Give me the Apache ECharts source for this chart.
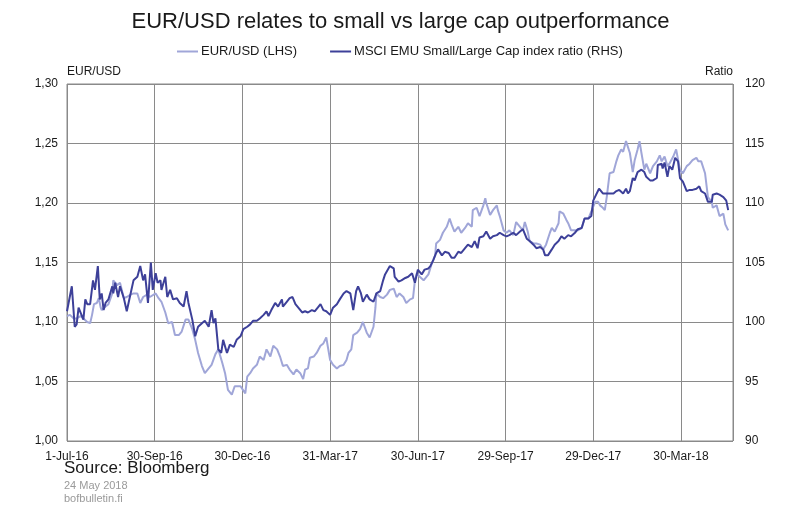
<!DOCTYPE html>
<html>
<head>
<meta charset="utf-8">
<script src="https://cdn.jsdelivr.net/npm/echarts@6/dist/echarts.min.js"></script>
<style>
html,body{margin:0;padding:0;background:#fff;}
#chart{width:801px;height:523px;}
</style>
</head>
<body>
<div id="chart"></div>
<script>
// ---- Data ----
var startDate = '2016-07-01';
var endDate = '2018-05-23';
var tickDates = ['2016-07-01','2016-09-30','2016-12-30','2017-03-31','2017-06-30','2017-09-29','2017-12-29','2018-03-30'];
var tickLabels = ['1-Jul-16','30-Sep-16','30-Dec-16','31-Mar-17','30-Jun-17','29-Sep-17','29-Dec-17','30-Mar-18'];

// EUR/USD (LHS): days since 1-Jul-2016 and values
var eurusdDays = [0,3,7,10,14,17,21,24,26,28,31,33,35,36,40,43,47,48,52,55,59,62,66,69,73,76,79,83,86,92,95,98,102,105,109,112,116,119,123,126,130,133,136,140,143,147,150,154,157,161,164,167,171,174,180,
185,187,190,193,197,200,204,207,211,214,218,221,224,228,231,235,238,242,245,247,250,252,256,259,263,266,269,273,276,280,283,287,290,292,295,297,301,304,307,311,314,318,320,321,325,328,332,335,339,342,345,349,352,356,359,361,363,366,370,375,
378,382,383,387,390,394,397,399,402,406,409,413,416,420,421,425,428,432,434,435,439,442,446,447,449,453,456,459,463,466,470,473,475,478,480,484,487,491,494,497,501,503,506,510,511,515,518,520,523,527,530,534,537,541,544,548,551,
553,556,558,560,563,567,570,572,575,577,580,584,587,589,592,594,596,599,601,605,608,612,615,617,620,623,625,629,632,636,639,643,646,649,653,655,658,662,665,669,670,674,677,681,683,686];
var eurusdValues = [1.105,1.106,1.103,1.103,1.105,1.103,1.100,1.099,1.106,1.115,1.116,1.120,1.112,1.110,1.113,1.115,1.124,1.135,1.131,1.133,1.120,1.121,1.123,1.124,1.124,1.116,1.121,1.123,1.121,1.124,1.120,1.117,1.108,1.099,1.100,1.089,1.089,1.092,1.102,1.102,1.094,1.085,1.074,1.063,1.057,1.061,1.064,1.073,1.077,1.066,1.057,1.043,1.039,1.046,1.046,
1.040,1.054,1.057,1.061,1.064,1.071,1.068,1.077,1.071,1.080,1.077,1.071,1.063,1.064,1.060,1.056,1.060,1.057,1.052,1.060,1.061,1.070,1.071,1.074,1.080,1.082,1.087,1.068,1.064,1.061,1.063,1.064,1.068,1.074,1.077,1.089,1.091,1.094,1.100,1.091,1.087,1.096,1.112,1.124,1.121,1.120,1.123,1.127,1.128,1.121,1.124,1.121,1.116,1.119,1.120,1.135,1.141,1.138,1.135,1.140,
1.148,1.156,1.166,1.169,1.175,1.180,1.187,1.182,1.176,1.180,1.175,1.179,1.183,1.180,1.194,1.196,1.189,1.198,1.204,1.200,1.190,1.194,1.198,1.194,1.189,1.177,1.175,1.177,1.173,1.184,1.180,1.177,1.184,1.176,1.168,1.166,1.166,1.165,1.161,1.165,1.175,1.179,1.176,1.183,1.193,1.191,1.186,1.183,1.177,1.177,1.177,1.179,1.187,1.187,1.193,1.201,1.201,
1.198,1.196,1.194,1.205,1.225,1.226,1.235,1.240,1.245,1.243,1.252,1.242,1.226,1.236,1.245,1.252,1.242,1.228,1.233,1.225,1.231,1.235,1.240,1.235,1.239,1.231,1.233,1.239,1.245,1.228,1.225,1.231,1.233,1.236,1.238,1.235,1.235,1.225,1.205,1.201,1.196,1.198,1.189,1.191,1.182,1.177];

// MSCI EMU Small/Large Cap index ratio (RHS)
var ratioDays = [0,5,8,10,12,15,17,19,21,24,27,29,32,34,36,38,40,43,47,48,50,53,55,59,62,66,69,73,76,79,81,84,87,89,92,94,97,98,102,104,107,110,114,117,121,124,126,130,133,136,140,143,147,150,152,154,157,160,162,166,169,173,176,180,
183,187,190,193,197,200,204,207,209,212,216,219,223,224,228,231,234,237,240,244,247,250,254,257,261,263,266,269,273,276,280,283,287,290,294,297,300,302,305,307,311,314,318,321,325,328,330,332,335,339,340,344,347,351,354,358,361,364,368,371,375,
377,380,383,385,389,392,396,399,402,406,409,413,416,420,423,426,428,432,435,439,442,446,449,453,456,459,463,466,470,473,477,480,484,487,491,494,496,499,503,506,510,513,516,520,523,527,530,534,537,541,544,546,549,552,
556,560,563,567,570,573,577,580,582,584,587,589,592,596,599,601,605,608,612,613,617,618,620,623,625,628,631,634,636,639,643,646,649,653,656,658,662,665,669,670,674,677,681,684,686];
var ratioValues = [100.9,103.0,99.6,99.8,101.2,100.6,100.2,101.9,101.5,101.5,103.5,102.7,104.7,101.9,102.4,101.0,101.6,101.9,103.0,102.4,103.3,102.1,103.0,102.0,100.9,102.4,103.5,103.8,104.7,103.5,104.0,101.6,105.0,102.7,104.1,103.3,103.5,102.7,103.8,102.1,102.7,101.9,102.0,101.6,101.3,102.6,101.6,100.2,98.8,99.6,99.9,100.1,99.6,101.0,99.9,100.3,97.7,97.4,98.5,97.4,98.1,97.9,98.5,98.8,
99.4,99.6,99.8,100.1,100.1,100.3,100.6,100.9,100.5,101.0,101.6,101.3,101.9,101.3,101.7,102.0,102.1,101.5,101.2,100.8,100.9,100.8,101.0,100.9,101.3,101.5,101.0,100.9,100.6,101.2,101.5,101.9,102.4,102.6,102.4,101.0,102.6,103.0,102.4,101.7,102.3,101.9,101.7,102.4,102.6,103.5,104.0,104.1,104.7,104.5,103.8,103.4,103.5,103.7,103.8,104.1,103.3,104.4,104.0,104.4,104.5,
104.7,105.2,105.8,106.1,105.6,105.9,105.8,105.4,105.4,105.9,105.8,106.2,106.5,106.3,106.8,106.2,107.1,107.2,107.6,107.0,107.2,107.3,107.5,107.3,107.2,107.3,107.5,107.3,107.6,107.8,107.0,106.8,106.5,106.2,106.3,106.1,105.6,105.6,106.1,106.5,106.8,107.2,107.0,107.3,107.2,107.5,107.8,107.9,108.7,108.7,108.9,110.2,110.7,111.2,
110.8,110.8,110.8,110.8,111.0,111.1,110.8,111.2,110.8,111.0,112.1,111.9,112.6,112.8,112.6,112.2,111.9,111.9,112.1,113.2,113.3,112.9,113.4,112.2,113.1,112.8,113.8,113.5,112.1,111.8,111.0,111.1,111.1,111.2,111.4,111.0,110.8,110.1,110.1,110.7,110.8,110.7,110.5,110.2,109.4];

var lhsTicks = {min:1.00, max:1.30, step:0.05};
var rhsTicks = {min:90, max:120, step:5};

// ---- Build ----
function dayOf(s){ var p=s.split('-'); return Date.UTC(+p[0],+p[1]-1,+p[2]); }
var t0 = dayOf(startDate);
function offset(s){ return Math.round((dayOf(s)-t0)/86400000); }
var tickDays = tickDates.map(offset);
var xMax = offset(endDate);
function pairs(xs, ys){ return xs.map(function(x,i){ return [x, ys[i]]; }); }

var lightColor = '#a0a6d8';
var darkColor = '#3d4099';
var gridColor = '#8a8a8a';
var font = 'Liberation Sans, Arial, sans-serif';

var chart = echarts.init(document.getElementById('chart'), null, {renderer:'canvas'});
chart.setOption({
  animation:false,
  backgroundColor:'#ffffff',
  title:{
    text:'EUR/USD relates to small vs large cap outperformance',
    left:'center', top:6,
    textStyle:{fontFamily:font, fontSize:22, fontWeight:'normal', color:'#1a1a1a'}
  },
  legend:{
    top:40, left:172,
    itemWidth:21, itemHeight:2, itemGap:33, icon:'rect',
    textStyle:{fontFamily:font, fontSize:13, color:'#1a1a1a', padding:[0,0,0,-2]},
    data:['EUR/USD (LHS)','MSCI EMU Small/Large Cap index ratio (RHS)']
  },
  grid:{left:67, right:68, top:84, bottom:82, show:true, borderColor:gridColor, borderWidth:1, backgroundColor:'transparent'},
  xAxis:{
    type:'value', min:0, max:xMax, interval:tickDays[1]-tickDays[0],
    axisLine:{show:false}, axisTick:{show:false},
    splitLine:{show:true, lineStyle:{color:gridColor, width:1}},
    axisLabel:{
      fontFamily:font, fontSize:12, color:'#1a1a1a', margin:10, showMaxLabel:false,
      formatter:function(v){ var i=tickDays.indexOf(Math.round(v)); return i>=0?tickLabels[i]:''; }
    }
  },
  yAxis:[{
    type:'value', position:'left', min:lhsTicks.min, max:lhsTicks.max, interval:lhsTicks.step,
    name:'EUR/USD', nameLocation:'end', nameGap:6,
    nameTextStyle:{fontFamily:font, fontSize:12, color:'#1a1a1a', align:'left'},
    axisLine:{show:false}, axisTick:{show:false},
    splitLine:{show:true, lineStyle:{color:gridColor, width:1}},
    axisLabel:{fontFamily:font, fontSize:12, color:'#1a1a1a', margin:9,
      formatter:function(v){ return v.toFixed(2).replace('.',','); }}
  },{
    type:'value', position:'right', min:rhsTicks.min, max:rhsTicks.max, interval:rhsTicks.step,
    name:'Ratio', nameLocation:'end', nameGap:6,
    nameTextStyle:{fontFamily:font, fontSize:12, color:'#1a1a1a', align:'right'},
    axisLine:{show:false}, axisTick:{show:false}, splitLine:{show:false},
    axisLabel:{fontFamily:font, fontSize:12, color:'#1a1a1a', margin:12}
  }],
  series:[{
    name:'EUR/USD (LHS)', type:'line', yAxisIndex:0, symbol:'none', z:2,
    lineStyle:{color:lightColor, width:2}, itemStyle:{color:lightColor},
    data:pairs(eurusdDays, eurusdValues)
  },{
    name:'MSCI EMU Small/Large Cap index ratio (RHS)', type:'line', yAxisIndex:1, symbol:'none', z:3,
    lineStyle:{color:darkColor, width:2}, itemStyle:{color:darkColor},
    data:pairs(ratioDays, ratioValues)
  }],
  graphic:[
    {type:'text', left:64, top:460, style:{text:'Source: Bloomberg', font:'17px Liberation Sans, Arial, sans-serif', fill:'#1a1a1a'}},
    {type:'text', left:64, top:480, style:{text:'24 May 2018', font:'11px Liberation Sans, Arial, sans-serif', fill:'#9a9a9a'}},
    {type:'text', left:64, top:493, style:{text:'bofbulletin.fi', font:'11px Liberation Sans, Arial, sans-serif', fill:'#9a9a9a'}}
  ]
});
</script>
</body>
</html>
